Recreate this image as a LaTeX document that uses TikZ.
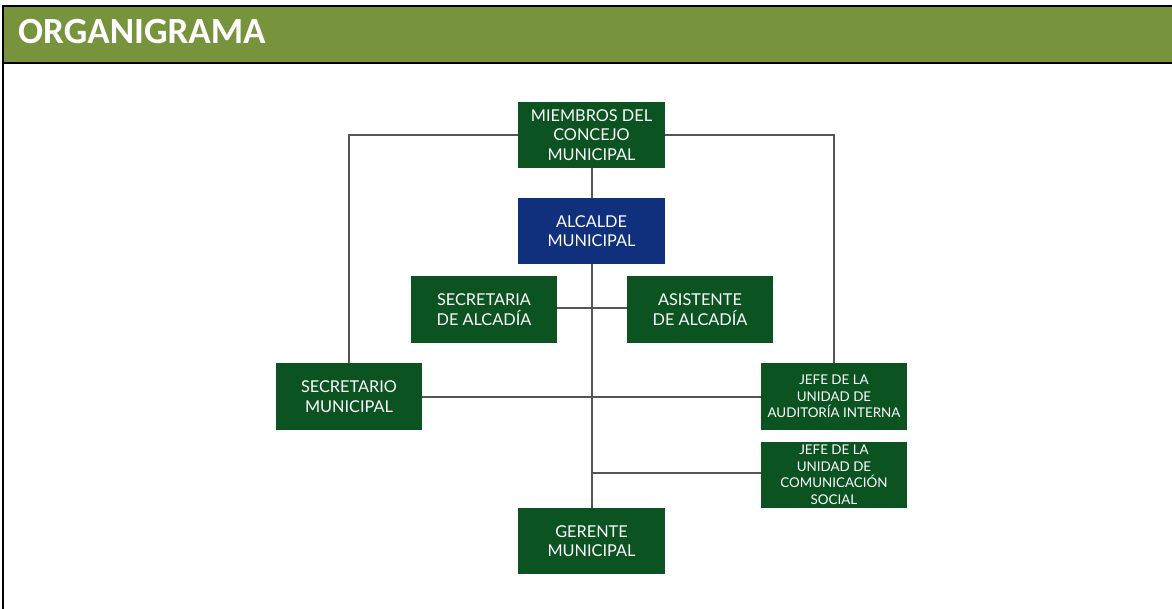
\documentclass[tikz,border=0pt]{standalone}
\usepackage{fontspec}
\setmainfont{Lato}
\newfontfamily\headfont{Carlito}
\usetikzlibrary{backgrounds}
\definecolor{hdrgreen}{HTML}{77933C}
\definecolor{boxgreen}{HTML}{0B5320}
\definecolor{boxblue}{HTML}{10307E}
\definecolor{linegray}{HTML}{555555}
\tikzset{
  orgbox/.style={fill=boxgreen, draw=none, minimum width=147pt, minimum height=66pt,
    text=white, align=center, inner sep=0pt, font=\fontsize{16.3}{19.5}\selectfont},
  smallbox/.style={orgbox, font=\fontsize{13.4}{16.5}\selectfont},
  conn/.style={draw=linegray, line width=2pt},
}
\begin{document}
\begin{tikzpicture}[x=1pt,y=-1pt]
\useasboundingbox (0,0) rectangle (1172,609);
% header
\fill[hdrgreen] (3,6) rectangle (1172,63.5);
\draw[line width=2pt] (1172,6) -- (3,6) -- (3,609);
\draw[line width=2pt] (3,63.5) -- (1172,63.5);
\node[anchor=west, text=white, font=\headfont\bfseries\fontsize{37}{40}\selectfont, inner sep=0pt] (title) at (18,31.5) {ORGANIGRAMA};
% boxes
\node[orgbox] (miembros) at (591.5,135) {MIEMBROS DEL\\CONCEJO\\MUNICIPAL};
\node[orgbox, fill=boxblue] (alcalde) at (591.5,231) {ALCALDE\\MUNICIPAL};
\node[orgbox, minimum width=146pt, minimum height=67pt] (secalc) at (484,309.5) {SECRETARIA\\DE ALCADÍA};
\node[orgbox, minimum width=146pt, minimum height=67pt] (asist) at (700,309.5) {ASISTENTE\\DE ALCADÍA};
\node[orgbox, minimum width=146pt, minimum height=67pt] (secmun) at (349,396.5) {SECRETARIO\\MUNICIPAL};
\node[smallbox, minimum width=146pt, minimum height=67pt] (audit) at (834,396.5) {JEFE DE LA\\UNIDAD DE\\AUDITORÍA INTERNA};
\node[smallbox, minimum width=146pt, minimum height=66pt] (comun) at (834,475) {JEFE DE LA\\UNIDAD DE\\COMUNICACIÓN\\SOCIAL};
\node[orgbox] (gerente) at (591.5,541) {GERENTE\\MUNICIPAL};
% helper coordinates
\coordinate (j1) at (592,308);
\coordinate (j2) at (592,397);
\coordinate (j3) at (592,473);
% connectors
\begin{scope}[on background layer]
\draw[conn] (miembros.west) -| (secmun.north);
\draw[conn] (miembros.east) -| (audit.north);
\draw[conn] (miembros.south -| j1) -- (gerente.north -| j1);
\draw[conn] (secalc.east |- j1) -- (asist.west |- j1);
\draw[conn] (secmun.east |- j2) -- (audit.west |- j2);
\draw[conn] (j3) -- (comun.west |- j3);
\end{scope}
\end{tikzpicture}
\end{document}
